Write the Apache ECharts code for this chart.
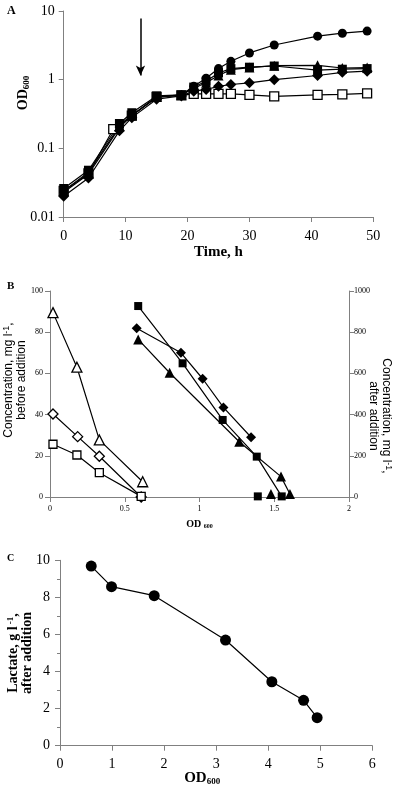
<!DOCTYPE html>
<html><head><meta charset="utf-8">
<script src="https://cdn.jsdelivr.net/npm/echarts@6/dist/echarts.min.js"></script>
<style>html,body{margin:0;padding:0;background:#fff}#c{width:400px;height:787px}</style>
</head><body><div id="c"></div>
<script>
// ---- Panel A: OD600 vs time ----
const timeA = [0, 4, 9, 11, 15, 19, 21, 23, 25, 27, 30, 34, 41, 45, 49];
const timeOpenSq = [0, 4, 8, 11, 15, 19, 21, 23, 25, 27, 30, 34, 41, 45, 49];
const odCircle   = [0.023, 0.042, 0.20, 0.30, 0.55, 0.60, 0.80, 1.05, 1.45, 1.85, 2.45, 3.2, 4.3, 4.75, 5.1];
const odSquare   = [0.026, 0.048, 0.23, 0.33, 0.58, 0.60, 0.78, 0.95, 1.25, 1.45, 1.52, 1.58, 1.38, 1.42, 1.45];
const odTriangle = [0.024, 0.045, 0.21, 0.30, 0.56, 0.60, 0.75, 0.90, 1.15, 1.40, 1.50, 1.60, 1.62, 1.48, 1.50];
const odDiamond  = [0.020, 0.037, 0.18, 0.28, 0.52, 0.58, 0.68, 0.72, 0.80, 0.85, 0.90, 1.00, 1.15, 1.28, 1.33];
const odOpenSq   = [0.024, 0.043, 0.19, 0.30, 0.56, 0.59, 0.62, 0.62, 0.62, 0.62, 0.60, 0.57, 0.60, 0.61, 0.63];
const arrowTime = 12.4, arrowFrom = 7.8, arrowTo = 1.15;

// ---- Panel B: concentration vs OD600 ----
const bOpenTriOD = [0.02, 0.18, 0.33, 0.62];  const bOpenTri = [89.5, 63, 27.7, 7.4];
const bOpenDiaOD = [0.02, 0.185, 0.33, 0.61]; const bOpenDia = [40.3, 29.3, 19.8, 0];
const bOpenSqOD  = [0.02, 0.18, 0.33, 0.61];  const bOpenSq  = [25.6, 20.4, 11.8, 0.3];
const bSqOD  = [0.59, 0.887, 1.155, 1.383, 1.55]; const bSq  = [927, 649, 374, 196, 3];
const bDiaOD = [0.58, 0.876, 1.021, 1.16, 1.345]; const bDia = [819, 700, 574, 435, 290];
const bTriOD = [0.59, 0.80, 1.266, 1.545, 1.605]; const bTri = [765, 603, 268, 99, 15];
const bExtraSqOD = [1.39];  const bExtraSq = [3];
const bExtraTriOD = [1.478]; const bExtraTri = [15];

// ---- Panel C: lactate vs OD600 ----
const cOD = [0.6, 0.99, 1.81, 3.18, 4.07, 4.68, 4.94];
const cLactate = [9.69, 8.58, 8.09, 5.7, 3.45, 2.45, 1.51];

const zip = (xs, ys) => xs.map((x, i) => [x, ys[i]]);
const SERIF = '"Liberation Serif","Times New Roman",serif';
const SANS = '"Liberation Sans",Arial,sans-serif';
const AX = '#808080';
const plain = v => String(+(+v).toPrecision(4));

function axisBase(fs, margin) {
  return {
    nameMoveOverlap: false,
    axisLine: {show: true, lineStyle: {color: AX, width: 1}},
    axisTick: {show: true, length: 5, lineStyle: {color: AX}},
    splitLine: {show: false},
    axisLabel: {color: '#000', fontFamily: SERIF, fontSize: fs, margin: margin, formatter: plain}
  };
}

function lineSeries(name, xi, yi, data, symbol, size, filled, extra) {
  return Object.assign({
    name, type: 'line', xAxisIndex: xi, yAxisIndex: yi, data,
    symbol, symbolSize: size, showSymbol: true,
    lineStyle: {color: '#000', width: 1.2},
    itemStyle: {color: filled ? '#000' : '#fff', borderColor: '#000', borderWidth: filled ? 0 : 1.3},
    emphasis: {disabled: true}, animation: false
  }, extra || {});
}

const chart = echarts.init(document.getElementById('c'), null, {renderer: 'canvas'});
const option = {
  animation: false,
  backgroundColor: '#fff',
  title: [
    {text: 'A', left: 2, top: 0, textStyle: {fontFamily: SERIF, fontWeight: 'bold', fontSize: 12, color: '#000'}},
    {text: 'B', left: 2, top: 276, textStyle: {fontFamily: SERIF, fontWeight: 'bold', fontSize: 11, color: '#000'}},
    {text: 'C', left: 2, top: 548, textStyle: {fontFamily: SERIF, fontWeight: 'bold', fontSize: 10, color: '#000'}}
  ],
  grid: [
    {left: 63.7, top: 11, width: 309.6, height: 206, containLabel: false, outerBoundsMode: 'none'},
    {left: 50, top: 291, width: 299, height: 206, containLabel: false, outerBoundsMode: 'none'},
    {left: 60, top: 560.3, width: 312.3, height: 185.4, containLabel: false, outerBoundsMode: 'none'}
  ],
  xAxis: [
    Object.assign(axisBase(14, 12), {gridIndex: 0, type: 'value', min: 0, max: 50, interval: 10,
      name: 'Time, h', nameLocation: 'middle', nameGap: 28,
      nameTextStyle: {fontFamily: SERIF, fontWeight: 'bold', fontSize: 15, color: '#000'}}),
    Object.assign(axisBase(8, 8), {gridIndex: 1, type: 'value', min: 0, max: 2, interval: 0.5,
      name: '{b|OD }{s|600}', nameLocation: 'middle', nameGap: 22,
      nameTextStyle: {rich: {
        b: {fontFamily: SERIF, fontWeight: 'bold', fontSize: 10, color: '#000', verticalAlign: 'bottom'},
        s: {fontFamily: SERIF, fontWeight: 'bold', fontSize: 6, color: '#000', verticalAlign: 'bottom', padding: [4, 0, 0, 0]}}}}),
    Object.assign(axisBase(14, 12), {gridIndex: 2, type: 'value', min: 0, max: 6, interval: 1,
      name: '{b|OD}{s|600}', nameLocation: 'middle', nameGap: 25,
      nameTextStyle: {padding: [0, 28, 0, 0], rich: {
        b: {fontFamily: SERIF, fontWeight: 'bold', fontSize: 15, color: '#000', verticalAlign: 'bottom'},
        s: {fontFamily: SERIF, fontWeight: 'bold', fontSize: 9, color: '#000', verticalAlign: 'bottom', padding: [5, 0, 0, 0]}}}})
  ],
  yAxis: [
    Object.assign(axisBase(14, 9), {gridIndex: 0, type: 'log', logBase: 10, min: 0.01, max: 10,
      name: '{b|OD}{s|600}', nameLocation: 'middle', nameGap: 33, nameRotate: 90,
      nameTextStyle: {padding: [0, 0, 0, 42], rich: {
        b: {fontFamily: SERIF, fontWeight: 'bold', fontSize: 14, color: '#000', verticalAlign: 'bottom'},
        s: {fontFamily: SERIF, fontWeight: 'bold', fontSize: 9, color: '#000', verticalAlign: 'bottom', padding: [5, 0, 0, 0]}}}}),
    Object.assign(axisBase(8, 7), {gridIndex: 1, type: 'value', min: 0, max: 100, interval: 20,
      name: '{a|Concentration, mg l}{sup|-1}{a|,}\n{a|before addition}', nameLocation: 'middle', nameGap: 22, nameRotate: 90,
      nameTextStyle: {padding: [0, 0, 0, 28], rich: {
        a: {fontFamily: SANS, fontSize: 12, color: '#000', lineHeight: 13, verticalAlign: 'bottom'},
        sup: {fontFamily: SANS, fontSize: 9, color: '#000', verticalAlign: 'top', lineHeight: 13, padding: [0, 0, 5, 0]}}}}),
    Object.assign(axisBase(8, 5), {gridIndex: 1, type: 'value', min: 0, max: 1000, interval: 200, position: 'right',
      name: '{a|Concentration, mg l}{sup|-1}{a|,}\n{a|after addition}', nameLocation: 'middle', nameGap: 18, nameRotate: -90,
      nameTextStyle: {padding: [0, 0, 0, 44], rich: {
        a: {fontFamily: SANS, fontSize: 12, color: '#000', lineHeight: 13, verticalAlign: 'bottom'},
        sup: {fontFamily: SANS, fontSize: 9, color: '#000', verticalAlign: 'top', lineHeight: 13, padding: [0, 0, 5, 0]}}}}),
    Object.assign(axisBase(14, 10), {gridIndex: 2, type: 'value', min: 0, max: 10, interval: 2,
      minorTick: {show: true, splitNumber: 2, length: 3, lineStyle: {color: AX}},
      name: '{a|Lactate, g l}{sup| -1}{a|,}\n{a|after addition}', nameLocation: 'middle', nameGap: 26, nameRotate: 90,
      nameTextStyle: {rich: {
        a: {fontFamily: SERIF, fontWeight: 'bold', fontSize: 14, color: '#000', lineHeight: 14, verticalAlign: 'bottom'},
        sup: {fontFamily: SERIF, fontWeight: 'bold', fontSize: 9, color: '#000', verticalAlign: 'top', lineHeight: 14, padding: [0, 0, 5, 0]}}}})
  ],
  series: [
    lineSeries('A open square', 0, 0, zip(timeOpenSq, odOpenSq), 'rect', 9, false, {
      markLine: {silent: true, symbol: ['none', 'arrow'], symbolSize: [7, 10], label: {show: false},
        lineStyle: {color: '#000', width: 1.5, type: 'solid'},
        data: [[{coord: [arrowTime, arrowFrom]}, {coord: [arrowTime, arrowTo]}]]}}),
    lineSeries('A diamond', 0, 0, zip(timeA, odDiamond), 'diamond', 11, true),
    lineSeries('A triangle', 0, 0, zip(timeA, odTriangle), 'triangle', 10, true),
    lineSeries('A square', 0, 0, zip(timeA, odSquare), 'rect', 9, true),
    lineSeries('A circle', 0, 0, zip(timeA, odCircle), 'circle', 9, true),

    lineSeries('B open triangle', 1, 1, zip(bOpenTriOD, bOpenTri), 'triangle', 10, false),
    lineSeries('B open diamond', 1, 1, zip(bOpenDiaOD, bOpenDia), 'diamond', 10, false),
    lineSeries('B open square', 1, 1, zip(bOpenSqOD, bOpenSq), 'rect', 8, false),
    lineSeries('B square', 1, 2, zip(bSqOD, bSq), 'rect', 8, true),
    lineSeries('B diamond', 1, 2, zip(bDiaOD, bDia), 'diamond', 10, true),
    lineSeries('B triangle', 1, 2, zip(bTriOD, bTri), 'triangle', 10, true),
    lineSeries('B extra square', 1, 2, zip(bExtraSqOD, bExtraSq), 'rect', 8, true),
    lineSeries('B extra triangle', 1, 2, zip(bExtraTriOD, bExtraTri), 'triangle', 10, true),

    lineSeries('C lactate', 2, 3, zip(cOD, cLactate), 'circle', 11, true)
  ]
};
chart.setOption(option);
</script>
</body></html>
